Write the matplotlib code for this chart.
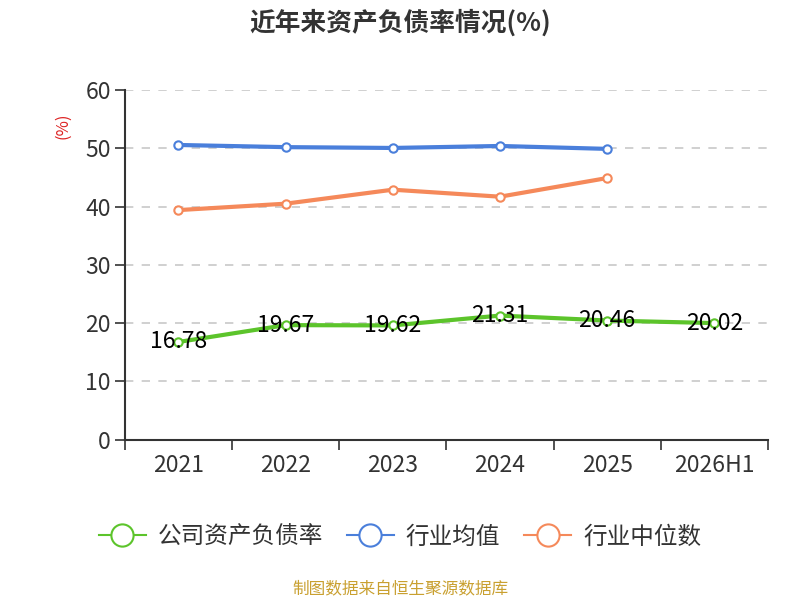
import matplotlib.pyplot as plt
import numpy as np

plt.rcParams['font.family'] = ['Noto Sans CJK SC', 'DejaVu Sans']

years = ['2021', '2022', '2023', '2024', '2025', '2026H1']
company = [16.78, 19.67, 19.62, 21.31, 20.46, 20.02]
industry_avg = [50.57, 50.2, 50.06, 50.4, 49.9]
industry_median = [39.4, 40.5, 42.9, 41.7, 44.9]

green = '#5cc42b'
blue = '#4a7fdb'
orange = '#f5895a'

fig = plt.figure(figsize=(8, 6), dpi=100)
ax = fig.add_axes([0.156, 0.267, 0.804, 0.583])

x = np.arange(len(years))
mk = dict(marker='o', markersize=6, markerfacecolor='white', markeredgewidth=1.5)
ax.plot(x, company, color=green, lw=3, markeredgecolor=green, label='公司资产负债率', zorder=4, **mk)
ax.plot(x[:len(industry_avg)], industry_avg, color=blue, lw=3, markeredgecolor=blue, label='行业均值', zorder=3, **mk)
ax.plot(x[:len(industry_median)], industry_median, color=orange, lw=3, markeredgecolor=orange, label='行业中位数', zorder=3, **mk)

for xi, v in zip(x, company):
    ax.text(xi, v, f'{v:.2f}', ha='center', va='center', fontsize=16.5, color='black', zorder=5)

ax.set_xlim(-0.5, len(years) - 0.5)
ax.set_ylim(0, 60)
ax.set_yticks(range(0, 61, 10))
ax.set_xticks(x)
ax.set_xticklabels(years)
ax.set_xticks(np.arange(-0.5, len(years), 1), minor=True)
ax.tick_params(axis='x', which='major', length=0, pad=10, labelsize=16.5, labelcolor='#333333')
ax.tick_params(axis='x', which='minor', length=7, width=1.2, color='#333333')
ax.tick_params(axis='y', length=7, width=1.2, color='#333333', labelsize=16.5, labelcolor='#333333', pad=3)

ax.grid(axis='y', ls=(0, (5, 5)), color='#c8c8c8', lw=1.2)
ax.set_axisbelow(True)
for s in ['top', 'right']:
    ax.spines[s].set_visible(False)
for s in ['left', 'bottom']:
    ax.spines[s].set_color('#333333')
    ax.spines[s].set_linewidth(1.5)

fig.text(0.078, 0.79, '(%)', color='#dd2222', fontsize=12, rotation=90, ha='center', va='center')
fig.text(0.5, 0.962, '近年来资产负债率情况(%)', ha='center', va='center', fontsize=18.5, fontweight='bold', color='#333333')

leg = fig.legend(loc='center', bbox_to_anchor=(0.5, 0.105), ncol=3, frameon=False, fontsize=17,
                 handlelength=2.0, columnspacing=1.0, handletextpad=0.5, labelcolor='#333333')
for h in leg.legend_handles:
    h.set_linewidth(1.5)
    h.set_markersize(16)

fig.text(0.5, 0.017, '制图数据来自恒生聚源数据库', ha='center', va='center', fontsize=12, color='#c9a030')

fig.savefig('out.png', dpi=100)
